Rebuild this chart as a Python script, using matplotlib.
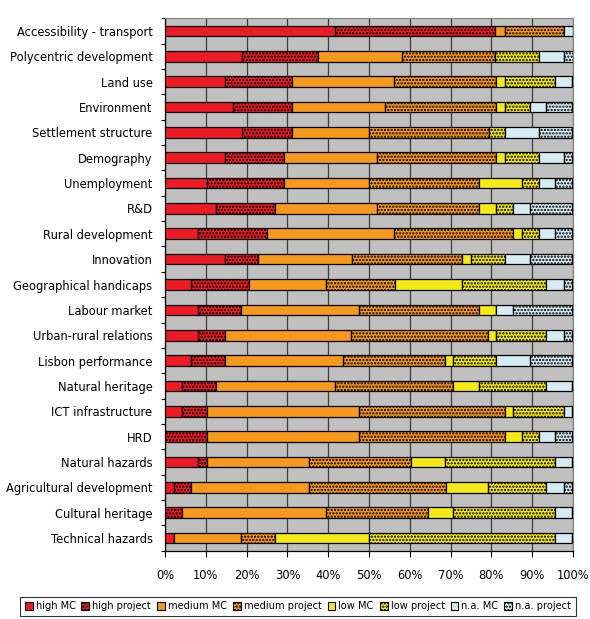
import numpy as np
import matplotlib
matplotlib.use("Agg")
import matplotlib.pyplot as plt
from matplotlib.patches import Patch
from matplotlib.ticker import FixedLocator, PercentFormatter

plt.rcParams['font.family'] = ['DejaVu Sans']
plt.rcParams['hatch.linewidth'] = 1.1

categories = [
    "Accessibility - transport", "Polycentric development", "Land use",
    "Environment", "Settlement structure", "Demography", "Unemployment",
    "R&D", "Rural development", "Innovation", "Geographical handicaps",
    "Labour market", "Urban-rural relations", "Lisbon performance",
    "Natural heritage", "ICT infrastructure", "HRD", "Natural hazards",
    "Agricultural development", "Cultural heritage", "Technical hazards",
]

# shares in % per category, one list per series
high_mc = [41.7, 18.8, 14.6, 16.6, 18.8, 14.6, 10.4, 12.4, 8.2, 14.6, 6.3,
           8.2, 8.2, 6.3, 4.1, 4.1, 0.0, 8.2, 2.1, 0.0, 2.1]
high_project = [39.3, 18.6, 16.6, 14.6, 12.4, 14.6, 18.8, 14.5, 16.8, 8.3, 14.3,
                10.5, 6.4, 8.3, 8.3, 6.3, 10.4, 2.2, 4.2, 4.1, 0.0]
medium_mc = [2.3, 20.8, 25.0, 22.8, 18.7, 22.8, 20.7, 25.1, 31.2, 22.9, 18.8,
             28.9, 31.1, 29.0, 29.3, 37.2, 37.2, 24.8, 28.9, 35.3, 16.6]
medium_project = [14.4, 22.8, 24.9, 27.1, 29.5, 29.1, 27.1, 25.0, 29.1, 27.1, 17.0,
                  29.4, 33.5, 25.1, 28.9, 35.7, 35.7, 25.2, 33.6, 25.1, 8.3]
low_mc = [0.0, 0.0, 2.2, 2.2, 0.0, 2.2, 10.4, 4.1, 2.1, 2.2, 16.5,
          4.1, 1.9, 1.9, 6.4, 2.0, 4.1, 8.2, 10.4, 6.1, 22.9]
low_project = [0.0, 10.6, 12.4, 6.1, 3.9, 8.3, 4.2, 4.2, 4.2, 8.2, 20.6,
               0.0, 12.4, 10.6, 16.5, 12.4, 4.2, 27.1, 14.3, 25.1, 45.8]
na_mc = [2.3, 6.1, 4.1, 4.1, 8.3, 6.1, 4.1, 4.1, 4.1, 6.1, 4.2,
         4.2, 4.2, 8.2, 6.3, 2.1, 4.1, 4.1, 4.2, 4.1, 4.1]
na_project = [0.0, 2.3, 0.0, 6.3, 8.2, 2.1, 4.1, 10.4, 4.1, 10.4, 2.1,
              14.5, 2.1, 10.4, 0.0, 0.0, 4.1, 0.0, 2.1, 0.0, 0.0]

series = [
    ("high MC", high_mc, "#ED1C24", None),
    ("high project", high_project, "#ED1C24", "....."),
    ("medium MC", medium_mc, "#F7991C", None),
    ("medium project", medium_project, "#F7991C", "....."),
    ("low MC", low_mc, "#F5E916", None),
    ("low project", low_project, "#F5E916", "....."),
    ("n.a. MC", na_mc, "#D5ECF4", None),
    ("n.a. project", na_project, "#D5ECF4", "....."),
]

fig = plt.figure(figsize=(5.9, 6.19), dpi=100)
ax = fig.add_axes([0.2797, 0.1103, 0.6915, 0.8601])
ax.set_facecolor("#C0C0C0")

y = np.arange(len(categories))
left = np.zeros(len(categories))
handles = []
for name, vals, color, hatch in series:
    vals = np.array(vals)
    ax.barh(y, vals, left=left, height=0.42, color=color, hatch=hatch,
            edgecolor="black", linewidth=0.9, zorder=3)
    left += vals
    handles.append(Patch(facecolor=color, hatch=hatch, edgecolor="black",
                         linewidth=0.8, label=name))

ax.set_xlim(0, 100)
ax.set_ylim(len(categories) - 0.5, -0.5)
ax.set_xticks(np.arange(0, 101, 10))
ax.xaxis.set_major_formatter(PercentFormatter(decimals=0))
ax.set_yticks(y)
ax.set_yticklabels(categories, fontsize=8.3)
ax.tick_params(axis="y", length=0, pad=9)
ax.yaxis.set_minor_locator(FixedLocator(np.arange(-0.5, len(categories), 1)))
ax.tick_params(axis="y", which="minor", length=3, width=0.8)
ax.tick_params(axis="x", length=4, width=0.8, labelsize=8.3, pad=9)
ax.grid(axis="x", color="#3c3c3c", linewidth=0.9, zorder=1)

for side in ("top", "right"):
    ax.spines[side].set_color("#808080")
for side in ("left", "bottom"):
    ax.spines[side].set_color("black")
    ax.spines[side].set_linewidth(0.9)

leg = fig.legend(handles=handles, loc="lower center", ncol=8,
                 bbox_to_anchor=(0.505, 0.002), fontsize=7.1, frameon=True,
                 fancybox=False, edgecolor="black", handlelength=0.8,
                 handleheight=0.8, handletextpad=0.3, columnspacing=0.6,
                 borderpad=0.45, borderaxespad=0.2)
leg.get_frame().set_linewidth(0.8)

fig.savefig("out.png", dpi=100)
